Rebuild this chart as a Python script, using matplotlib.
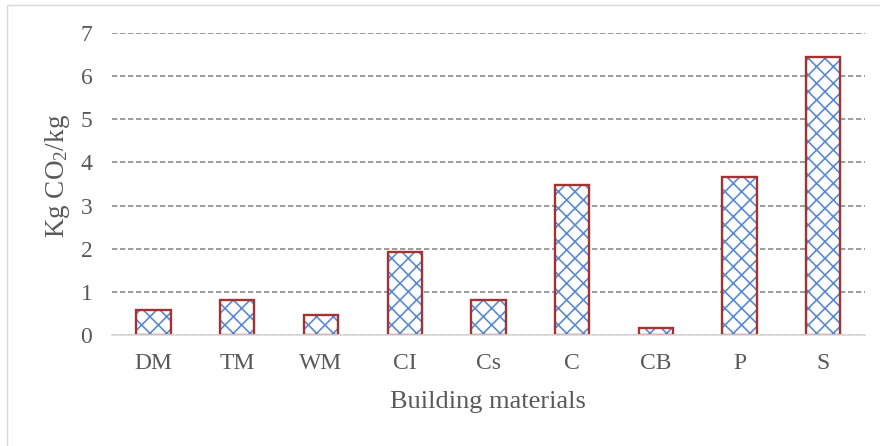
import matplotlib
matplotlib.use("Agg")
import matplotlib.pyplot as plt
from matplotlib.patches import Rectangle
import numpy as np

categories = ["DM", "TM", "WM", "CI", "Cs", "C", "CB", "P", "S"]
values = [0.58, 0.81, 0.47, 1.92, 0.81, 3.48, 0.15, 3.67, 6.45]
yticks = [0, 1, 2, 3, 4, 5, 6, 7]

plt.rcParams["font.family"] = ["Liberation Serif", "DejaVu Serif"]
plt.rcParams["mathtext.fontset"] = "custom"
plt.rcParams["mathtext.rm"] = "Liberation Serif"
plt.rcParams["mathtext.it"] = "Liberation Serif:italic"
plt.rcParams["hatch.linewidth"] = 1.2

text_color = "#595959"
fig = plt.figure(figsize=(8.8, 4.46), dpi=100)
ax = fig.add_axes([0.127, 0.249, 0.856, 0.677])

x = np.arange(len(categories))
width = 0.41
# hatched fill in blue, outline drawn separately in dark red
ax.bar(x, values, width, color="white", hatch="xx", edgecolor="#5B8BD0",
       linewidth=0, zorder=2)
ax.bar(x, values, width, fill=False, edgecolor="#A33232", linewidth=1.7, zorder=3)

ax.set_ylim(0, 7)
ax.set_xlim(-0.5, len(categories) - 0.5)
ax.set_yticks(yticks)
ax.set_xticks(x)
ax.set_xticklabels(categories)
ax.tick_params(axis="both", length=0, labelsize=17, colors=text_color)
ax.tick_params(axis="x", pad=13)
ax.tick_params(axis="y", pad=14)

ax.yaxis.grid(True, linestyle=(0, (3.2, 1.6)), color="#8C8C8C", linewidth=1.2)
ax.set_axisbelow(True)
for s in ["top", "right", "left"]:
    ax.spines[s].set_visible(False)
ax.spines["bottom"].set_color("#D9D9D9")
ax.spines["bottom"].set_linewidth(1.2)
ax.spines["bottom"].set_zorder(4)

ax.set_xlabel("Building materials", fontsize=19, color=text_color, labelpad=12)
ax.set_ylabel("Kg CO$_2$/kg", fontsize=19.5, color=text_color,
              va="center", ha="center")
ax.yaxis.set_label_coords(-0.072, 0.525)

# chart-area frame
fig.add_artist(Rectangle((7 / 880, -0.1), 1.2, 1 - 5 / 446 + 0.1,
                         transform=fig.transFigure, fill=False,
                         edgecolor="#D9D9D9", linewidth=1.0))

fig.savefig("out.png", dpi=100)
